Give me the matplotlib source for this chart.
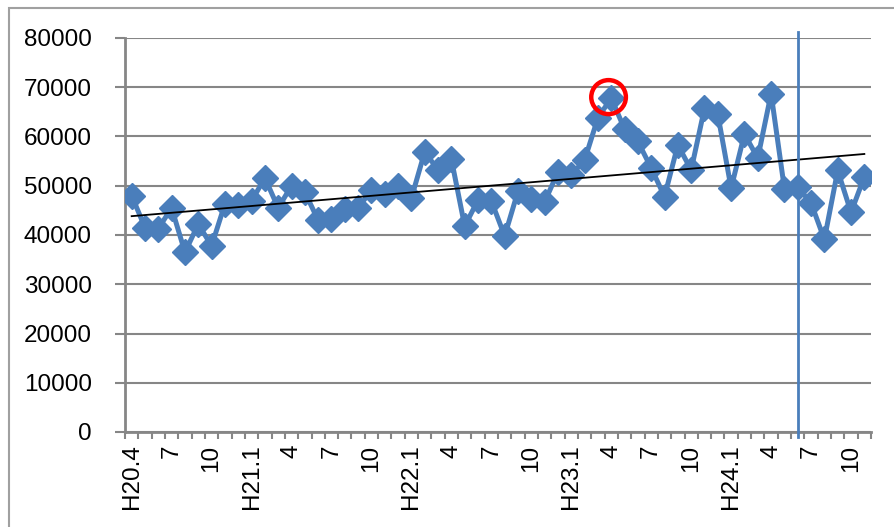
import numpy as np
import matplotlib.pyplot as plt
from matplotlib.patches import Ellipse, Rectangle

plt.rcParams['font.family'] = ['Liberation Sans', 'DejaVu Sans']

# 月次データ H20.4 - H24.11
values = [48000, 41500, 41300, 45500, 36500, 42200, 37800, 46300, 46100, 46900,
          51600, 45500, 50000, 48700, 43000, 43200, 45300, 45500, 49100, 48300,
          50000, 47500, 56900, 53200, 55400, 41800, 47100, 46900, 39800, 48900,
          47300, 46700, 52800, 52200, 55200, 63800, 67800, 61500, 59000, 53600,
          47800, 58300, 53200, 65700, 64500, 49500, 60500, 55600, 68700, 49400,
          49700, 46500, 39100, 53100, 44600, 51800]
labels = ["H20.4", "7", "10", "H21.1", "4", "7", "10", "H22.1", "4", "7", "10",
          "H23.1", "4", "7", "10", "H24.1", "4", "7", "10"]
highlight = 36   # H23.4
marker_line = 50  # H24.6

blue = '#4a7ebb'
grey = '#868686'

x = np.arange(len(values))
fig = plt.figure(figsize=(8.94, 5.27), dpi=100)
ax = fig.add_axes([125 / 894, 1 - 432 / 527, 746 / 894, 394 / 527])

# 外枠
fig.patches.append(Rectangle((9 / 894, -0.1), 1.0, 1.1 - 8 / 527,
                             transform=fig.transFigure, fill=False,
                             edgecolor='#a0a0a0', linewidth=1.5))

ax.set_xlim(-0.5, len(values) - 0.5)
ax.set_ylim(0, 80000)
ax.set_yticks(np.arange(0, 80001, 10000))
ax.yaxis.grid(True, color=grey, linewidth=1.5)
ax.set_axisbelow(True)

for s in ['top', 'right']:
    ax.spines[s].set_visible(False)
ax.spines['left'].set_color(grey)
ax.spines['bottom'].set_color(grey)
ax.spines['left'].set_linewidth(2)
ax.spines['bottom'].set_linewidth(2)

ax.set_xticks(np.arange(0, len(values), 3))
ax.set_xticklabels(labels, rotation=90, ha='center', va='top')
ax.set_xticks(np.arange(-0.5, len(values), 1), minor=True)
ax.tick_params(axis='x', which='major', length=0, pad=9, labelsize=17.5)
ax.tick_params(axis='x', which='minor', length=5, width=1.5, color=grey)
ax.tick_params(axis='y', length=7, width=1.5, color=grey, labelsize=17.5, pad=17)

ax.plot(x, values, color=blue, linewidth=3.6, marker='D', markersize=13,
        markeredgecolor=blue, markeredgewidth=1, zorder=3)

# 近似直線
k, b = np.polyfit(x, values, 1)
ax.plot(x, k * x + b, color='black', linewidth=1.3, zorder=4)

ax.axvline(marker_line, ymin=-0.013, ymax=1.016, color=blue, linewidth=2,
           clip_on=False, zorder=5)

ax.add_patch(Ellipse((highlight - 0.2, 68000), 2.6, 6900, fill=False,
                     edgecolor='#ff0000', linewidth=3.2, zorder=6))

fig.savefig('out.png', dpi=100)
